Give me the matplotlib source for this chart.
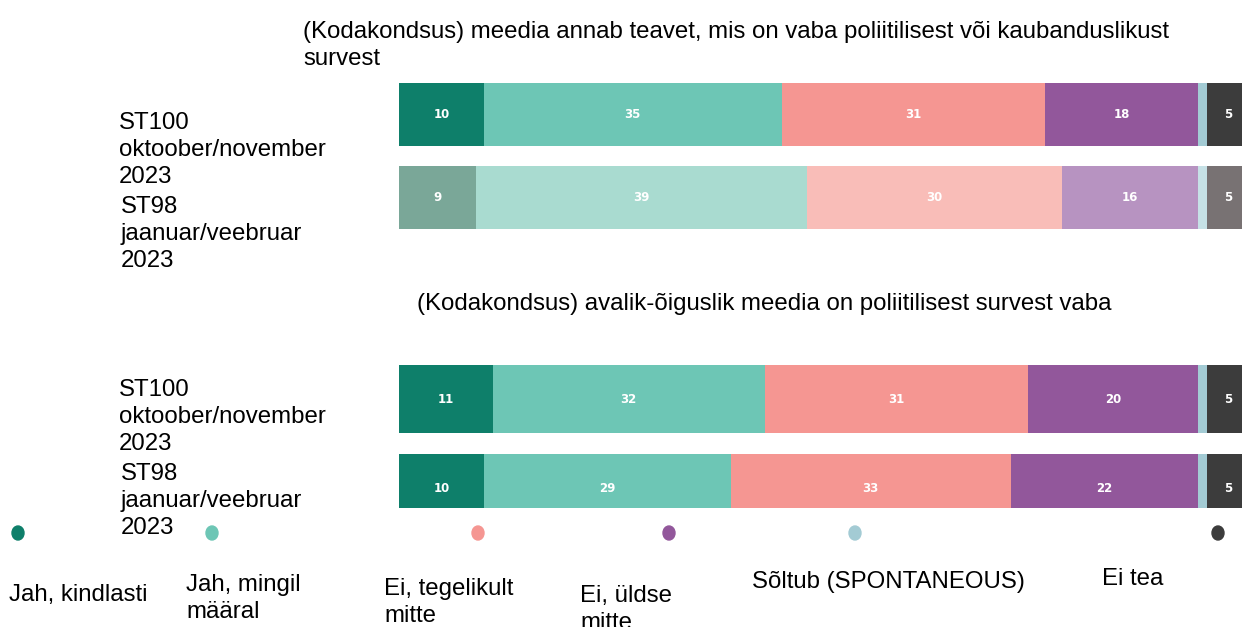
import matplotlib.pyplot as plt
from matplotlib.patches import Ellipse
import numpy as np

# Data
categories = ["Jah, kindlasti", "Jah, mingil\nmääral", "Ei, tegelikult\nmitte",
              "Ei, üldse\nmitte", "Sõltub (SPONTANEOUS)", "Ei tea"]
waves = ["ST100\noktoober/november\n2023", "ST98\njaanuar/veebruar\n2023"]
title_1 = "(Kodakondsus) meedia annab teavet, mis on vaba poliitilisest või kaubanduslikust\nsurvest"
title_2 = "(Kodakondsus) avalik-õiguslik meedia on poliitilisest survest vaba"
q1_st100 = [10, 35, 31, 18, 1, 5]
q1_st98 = [9, 39, 30, 16, 1, 5]
q2_st100 = [11, 32, 31, 20, 1, 5]
q2_st98 = [10, 29, 33, 22, 1, 5]

colors = ['#0e7f6a', '#6dc6b5', '#f59692', '#92579b', '#a3cbd4', '#3c3c3c']
faded = ['#7aa798', '#a9dbd0', '#f9bdb8', '#b793c1', '#c6e1e6', '#787273']

W, H = 1242, 627
FONT = 'Liberation Sans'
fig = plt.figure(figsize=(W / 100, H / 100), dpi=100)

# overlay in pixel units for texts and legend dots
ov = fig.add_axes([0, 0, 1, 1])
ov.set_xlim(0, W)
ov.set_ylim(H, 0)
ov.axis('off')


def lines(x, y, text, step=27, size=17.3):
    for i, line in enumerate(text.split('\n')):
        ov.text(x, y + i * step, line, fontsize=size, family=FONT,
                va='baseline', ha='left', color='black')


def draw_panel(rect, ylim, rows, palettes, bar_h):
    ax = fig.add_axes(rect)
    ax.set_xlim(0, 100)
    ax.set_ylim(*ylim)
    ax.axis('off')
    for r, (vals, pal) in enumerate(zip(rows, palettes)):
        vals = np.array(vals)
        lefts = np.concatenate([[0], np.cumsum(vals)[:-1]])
        ax.barh(r, vals, left=lefts, height=bar_h, color=pal, linewidth=0)
        for v, l in zip(vals, lefts):
            if v >= 3:
                ax.text(l + v / 2, r, str(v), ha='center', va='center',
                        color='white', fontsize=8.5, fontweight='bold',
                        family='DejaVu Sans')
    return ax


# panel 1
draw_panel([399 / W, 1 - 239.25 / H, 850 / W, 167 / H], (1.5, -0.5),
           [q1_st100, q1_st98], [colors, faded], 63 / 83.5)
# panel 2 (bottom bar cut off as in the source)
draw_panel([399 / W, 1 - 508 / H, 850 / W, 153.5 / H], (1 + 20 / 89, -0.5),
           [q2_st100, q2_st98], [colors, colors], 68 / 89)

# titles
lines(303, 38, title_1)
lines(417, 310, title_2)

# row labels
lines(119, 129, waves[0])
lines(121, 213, waves[1])
lines(119, 396, waves[0])
lines(121, 480, waves[1])

# legend
dot_x = [18, 212, 478, 669, 855, 1218]
lab_x = [9, 186, 384, 580, 752, 1102]
lab_y = [601, 591, 595, 602, 588, 585]
for c, dx, lx, ly, cat in zip(colors, dot_x, lab_x, lab_y, categories):
    ov.add_patch(Ellipse((dx, 533), 12, 14, color=c))
    lines(lx, ly, cat)

fig.savefig('out.png', dpi=100)
